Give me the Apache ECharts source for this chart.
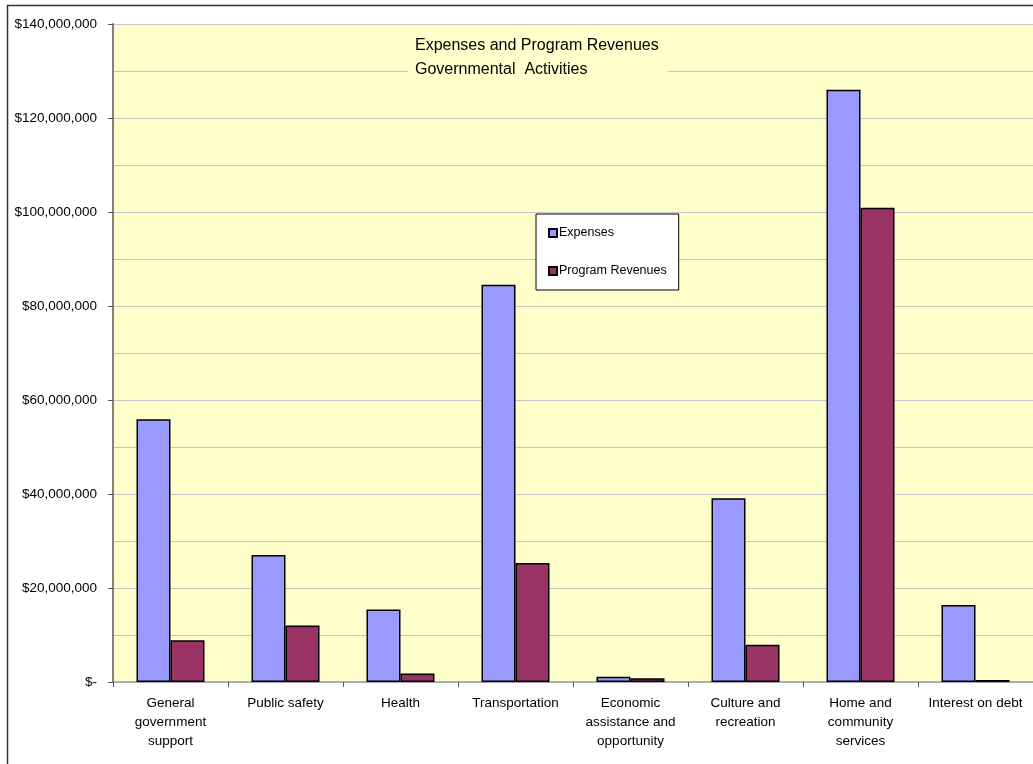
<!DOCTYPE html>
<html>
<head>
<meta charset="utf-8">
<script src="https://cdn.jsdelivr.net/npm/echarts@6/dist/echarts.min.js"></script>
<style>
html,body{margin:0;padding:0;background:#fff;}
#chart{width:1033px;height:764px;}
</style>
</head>
<body>
<div id="chart"></div>
<script>
const categories = [
  'General\ngovernment\nsupport',
  'Public safety',
  'Health',
  'Transportation',
  'Economic\nassistance and\nopportunity',
  'Culture and\nrecreation',
  'Home and\ncommunity\nservices',
  'Interest on debt'
];
const expenses = [55900000, 27000000, 15400000, 84500000, 1100000, 39100000, 126000000, 16400000];
const programRevenues = [8900000, 12000000, 1800000, 25300000, 800000, 7900000, 100900000, 400000];
const seriesNames = ['Expenses', 'Program Revenues'];
const titleLines = ['Expenses and Program Revenues', 'Governmental  Activities'];

const FONT = '"Liberation Sans", Arial, sans-serif';
function money(v) {
  if (v === 0) return '$-';
  return '$' + v.toLocaleString('en-US');
}

const chart = echarts.init(document.getElementById('chart'), null, {renderer: 'canvas'});
chart.setOption({
  backgroundColor: '#ffffff',
  animation: false,
  graphic: [{
    type: 'rect', left: 5, top: 3, z: 100, silent: true,
    shape: {width: 1100, height: 800},
    style: {fill: 'none', stroke: '#333333', lineWidth: 1.5}
  }],
  title: {
    text: titleLines.join('\n'),
    left: 408, top: 29,
    padding: [5, 10, 5, 7],
    backgroundColor: '#FFFFCC',
    textStyle: {fontFamily: FONT, fontSize: 16, fontWeight: 'normal', color: '#000', lineHeight: 24},
    z: 10
  },
  legend: {
    orient: 'vertical',
    left: 536, top: 214,
    padding: [12, 12, 12, 12],
    itemGap: 24,
    itemWidth: 8, itemHeight: 8,
    icon: 'rect',
    backgroundColor: '#ffffff',
    borderColor: '#000000', borderWidth: 1,
    textStyle: {fontFamily: FONT, fontSize: 12.5, color: '#000', lineHeight: 14, padding: [0, 0, 0, -3]},
    data: seriesNames
  },
  grid: {
    left: 113, top: 24, width: 930, bottom: 82,
    show: true, backgroundColor: '#FFFFCC', borderWidth: 0,
    containLabel: false
  },
  xAxis: {
    type: 'category',
    data: categories,
    axisLine: {lineStyle: {color: '#9a9ab0', width: 1.5}},
    axisTick: {show: true, length: 5, lineStyle: {color: '#555'}},
    axisLabel: {fontFamily: FONT, fontSize: 13.5, color: '#000', lineHeight: 19, margin: 12, interval: 0}
  },
  yAxis: {
    type: 'value',
    min: 0, max: 140000000, interval: 20000000,
    axisLine: {show: true, lineStyle: {color: '#808080', width: 2}},
    axisTick: {show: true, length: 5, lineStyle: {color: '#555'}},
    axisLabel: {fontFamily: FONT, fontSize: 13.5, color: '#000', margin: 16, formatter: money},
    splitLine: {show: true, lineStyle: {color: '#c4c4c4', width: 1.2}},
    minorTick: {show: false, splitNumber: 2},
    minorSplitLine: {show: true, lineStyle: {color: '#c4c4c4', width: 1.2}}
  },
  series: [
    {
      name: seriesNames[0], type: 'bar', data: expenses,
      barWidth: 34, barGap: '0%',
      itemStyle: {color: '#9999FF', borderColor: '#000', borderWidth: 1.5}
    },
    {
      name: seriesNames[1], type: 'bar', data: programRevenues,
      barWidth: 34, barGap: '0%',
      itemStyle: {color: '#993366', borderColor: '#000', borderWidth: 1.5}
    }
  ]
});
</script>
</body>
</html>
